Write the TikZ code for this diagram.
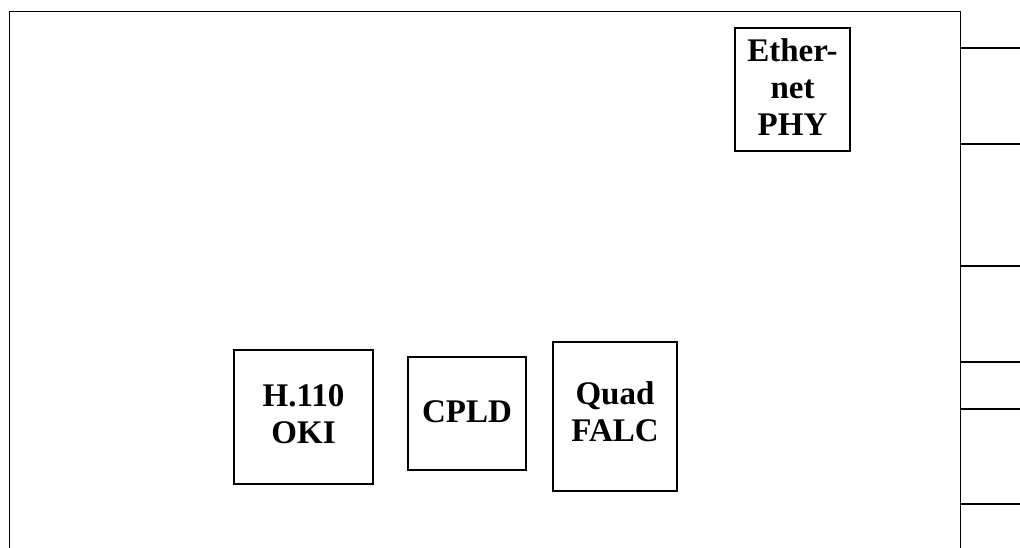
\documentclass[tikz,border=0pt]{standalone}
\usepackage{fontspec}
\setmainfont{Liberation Serif}
\begin{document}
\begin{tikzpicture}[x=1pt, y=-1pt]
% Set the box and text styles
\tikzset{chip/.style={draw, line width=1.4pt, inner sep=0pt},
  chiptext/.style={align=center, inner sep=0pt,
  font=\bfseries\fontsize{33}{37}\selectfont}}
\useasboundingbox (0, 0) rectangle (1020, 548);

% Draw the board outline (open at the bottom)
\draw[line width=1.5pt] (9.5, 548) -- (9.5, 11.5) -- (960.5, 11.5) -- (960.5, 548);

% Draw the connector stubs on the right edge
\foreach \y/\n in {48/a, 144/b, 266/c, 362/d, 409/e, 504/f} {
  \coordinate (edge\n) at (960.5, \y);
  \coordinate (out\n) at (1020, \y);
  \draw[line width=1.4pt] (edge\n) -- (out\n);
}

% Place the chips
\node[chip, minimum width=115, minimum height=123] (phy) at (792.5, 89.5) {};
\node[chiptext] (phytext) at (792.5, 87) {Ether-\\net\\PHY};
\node[chip, minimum width=139, minimum height=134] (oki) at (303.5, 417) {};
\node[chiptext] (okitext) at (303.5, 414) {H.110\\OKI};
\node[chip, minimum width=118, minimum height=113] (cpld) at (467, 413.5) {};
\node[chiptext] (cpldtext) at (467, 412) {CPLD};
\node[chip, minimum width=124, minimum height=149] (falc) at (615, 416.5) {};
\node[chiptext] (falctext) at (615, 412) {Quad\\FALC};
\end{tikzpicture}
\end{document}
